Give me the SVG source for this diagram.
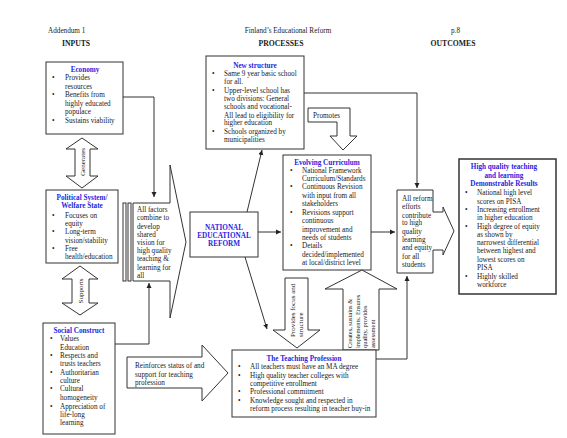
<svg xmlns="http://www.w3.org/2000/svg" width="567" height="438" viewBox="0 0 567 438">
<defs>
<style>
text{font-family:"Liberation Serif","Times New Roman",serif;fill:#1a1a1a;font-size:7.2px}
.hd{font-size:7.2px}
.hb{font-size:7.7px;font-weight:bold}
.t{font-weight:bold;fill:#1f1fe0;text-anchor:middle}
.box{fill:#fff;stroke:#333;stroke-width:1}
.thick{stroke-width:1.5}
.ln{fill:none;stroke:#333;stroke-width:1}
.sm{font-size:6.4px}
.md{font-size:7px}
</style>
<marker id="ah" markerWidth="6" markerHeight="6" refX="5" refY="3" orient="auto" markerUnits="userSpaceOnUse">
<path d="M0,0.5 L5,3 L0,5.5 Z" fill="#222"/>
</marker>
</defs>
<rect width="567" height="438" fill="#fff"/>

<g id="header">
<text class="hd" x="48" y="33">Addendum 1</text>
<text class="hd" x="288" y="33" text-anchor="middle">Finland’s Educational Reform</text>
<text class="hd" x="451" y="33">p.8</text>
<text class="hb" x="76" y="46" text-anchor="middle">INPUTS</text>
<text class="hb" x="281" y="46" text-anchor="middle">PROCESSES</text>
<text class="hb" x="453" y="46" text-anchor="middle">OUTCOMES</text>
</g>

<g id="economy">
<rect class="box" x="46" y="62" width="77" height="72"/>
<text class="t" x="85" y="71.5">Economy</text>
<text x="52" y="80">•</text><text x="65" y="80">Provides</text>
<text x="65" y="88.5">resources</text>
<text x="52" y="97">•</text><text x="65" y="97">Benefits from</text>
<text x="65" y="105.5">highly educated</text>
<text x="65" y="114">populace</text>
<text x="52" y="122.5">•</text><text x="65" y="122.5">Sustains viability</text>
</g>

<g id="generates">
<polygon class="box" points="82,138 66,149 75,149 75,176 66,176 82,188 98,176 90,176 90,149 98,149"/>
<text class="md" transform="translate(85,162) rotate(-90)" text-anchor="middle">Generates</text>
</g>

<g id="political">
<rect class="box" x="46" y="190" width="72" height="73"/>
<text class="t" x="82" y="199.5">Political System/</text>
<text class="t" x="82" y="208">Welfare State</text>
<text x="52" y="217.5">•</text><text x="65" y="217.5">Focuses on</text>
<text x="65" y="225.5">equity</text>
<text x="52" y="234">•</text><text x="65" y="234">Long-term</text>
<text x="65" y="242.5">vision/stability</text>
<text x="52" y="251">•</text><text x="65" y="251">Free</text>
<text x="65" y="259">health/education</text>
</g>

<g id="supports">
<polygon class="box" points="80,266 62,279 72,279 72,303 62,303 80,315 98,303 89,303 89,279 98,279"/>
<text class="md" transform="translate(83,291) rotate(-90)" text-anchor="middle">Supports</text>
</g>

<g id="social">
<rect class="box" x="43" y="323" width="72" height="111"/>
<text class="t" x="79" y="332.5">Social Construct</text>
<text x="50" y="341">•</text><text x="60" y="341">Values</text>
<text x="60" y="349.5">Education</text>
<text x="50" y="358">•</text><text x="60" y="358">Respects  and</text>
<text x="60" y="366">trusts teachers</text>
<text x="50" y="374.5">•</text><text x="60" y="374.5">Authoritarian</text>
<text x="60" y="383">culture</text>
<text x="50" y="391">•</text><text x="60" y="391">Cultural</text>
<text x="60" y="400">homogeneity</text>
<text x="50" y="408.5">•</text><text x="60" y="408.5">Appreciation of</text>
<text x="60" y="416.5">life-long</text>
<text x="60" y="425">learning</text>
</g>

<g id="all-factors">
<rect class="box" x="123" y="203" width="3" height="78"/>
<rect class="box" x="128" y="203" width="3" height="78"/>
<polygon class="box" points="133,203 170,203 170,165 186,242 170,318 170,281 133,281"/>
<text x="137" y="211.5">All factors</text>
<text x="137" y="220">combine to</text>
<text x="137" y="228.5">develop</text>
<text x="137" y="236.5">shared</text>
<text x="137" y="244.5">vision for</text>
<text x="137" y="253">high quality</text>
<text x="137" y="261">teaching &amp;</text>
<text x="137" y="269.5">learning for</text>
<text x="137" y="277.5">all</text>
</g>

<g id="national">
<rect class="box" x="190" y="212" width="68" height="45"/>
<text class="t" x="224" y="229.5">NATIONAL</text>
<text class="t" x="224" y="237.5">EDUCATIONAL</text>
<text class="t" x="224" y="245.5">REFORM</text>
</g>

<g id="new-structure">
<rect class="box" x="206" y="56" width="98" height="93"/>
<text class="t" x="255" y="67.5">New structure</text>
<text x="212" y="75.8">•</text><text x="224" y="75.8">Same 9 year basic school</text>
<text x="224" y="84">for all.</text>
<text x="212" y="92.5">•</text><text x="224" y="92.5">Upper-level school has</text>
<text x="224" y="100.8">two divisions: General</text>
<text x="224" y="109">schools and vocational-</text>
<text x="224" y="117.5">All lead to eligibility for</text>
<text x="224" y="125">higher education</text>
<text x="212" y="134">•</text><text x="224" y="134">Schools organized by</text>
<text x="224" y="141.8">municipalities</text>
</g>

<g id="promotes">
<polygon class="box" points="308,108 350,108 350,136 357,136 343,150 330,136 337,136 337,122 308,122"/>
<text x="313" y="117.5">Promotes</text>
</g>

<g id="evolving">
<rect class="box" x="283" y="155" width="88" height="115"/>
<text class="t" x="327" y="164.5">Evolving Curriculum</text>
<text x="290" y="173">•</text><text x="302" y="173">National Framework</text>
<text x="302" y="181">Curriculum/Standards</text>
<text x="290" y="189">•</text><text x="302" y="189">Continuous Revision</text>
<text x="302" y="197.5">with input from all</text>
<text x="302" y="206">stakeholders</text>
<text x="290" y="215">•</text><text x="302" y="215">Revisions support</text>
<text x="302" y="223">continuous</text>
<text x="302" y="231.5">improvement and</text>
<text x="302" y="240">needs of students</text>
<text x="290" y="248">•</text><text x="302" y="248">Details</text>
<text x="302" y="256.5">decided/implemented</text>
<text x="302" y="265">at local/district level</text>
</g>

<g id="provides">
<polygon class="box" points="285,278 308,278 308,330 320,330 297,348 273,330 285,330"/>
<text class="md" transform="translate(295,337) rotate(-90)">Provides focus and</text>
<text class="md" transform="translate(303,337) rotate(-90)">structure</text>
</g>

<g id="creates">
<polygon class="box" points="362,270 397,289 379,289 379,350 343,350 343,289 325,289"/>
<text class="sm" transform="translate(352,348) rotate(-90)">Creates, sustains &amp;</text>
<text class="sm" transform="translate(359.5,348) rotate(-90)">implements. Ensures</text>
<text class="sm" transform="translate(367,348) rotate(-90)">quality, provides</text>
<text class="sm" transform="translate(374.5,348) rotate(-90)">assessment</text>
</g>

<g id="teaching">
<rect class="box" x="232" y="350" width="144" height="67"/>
<text class="t" x="304" y="360.5">The Teaching Profession</text>
<text x="238" y="369">•</text><text x="250" y="369">All teachers must have an MA degree</text>
<text x="238" y="377.5">•</text><text x="250" y="377.5">High quality teacher colleges with</text>
<text x="250" y="385.5">competitive enrollment</text>
<text x="238" y="394">•</text><text x="250" y="394">Professional commitment</text>
<text x="238" y="402.5">•</text><text x="250" y="402.5">Knowledge sought and respected in</text>
<text x="250" y="411">reform process resulting in teacher buy-in</text>
</g>

<g id="reinforces">
<polygon class="box" points="127,357 202,357 202,345 228,373 202,401 202,388 127,388"/>
<text x="135" y="368">Reinforces status of and</text>
<text x="135" y="376.5">support for teaching</text>
<text x="135" y="384.5">profession</text>
</g>

<g id="all-reform">
<polygon class="box" points="397,190 433,190 433,212 443,212 443,207 454,231 443,255 443,250 433,250 433,273 397,273"/>
<text x="402" y="200.5">All reform</text>
<text x="402" y="209">efforts</text>
<text x="402" y="217.5">contribute</text>
<text x="402" y="225">to high</text>
<text x="402" y="233.5">quality</text>
<text x="402" y="241.5">learning</text>
<text x="402" y="250">and equity</text>
<text x="402" y="258.5">for all</text>
<text x="402" y="266.5">students</text>
</g>

<g id="outcomes">
<rect class="box thick" x="459" y="159" width="97" height="135"/>
<text class="t" x="504" y="169">High quality teaching</text>
<text class="t" x="504" y="177.5">and learning</text>
<text class="t" x="504" y="186">Demonstrable Results</text>
<text x="465" y="195">•</text><text x="477" y="195">National high level</text>
<text x="477" y="203.5">scores on PISA</text>
<text x="465" y="211.5">•</text><text x="477" y="211.5">Increasing enrollment</text>
<text x="477" y="220">in higher education</text>
<text x="465" y="228.5">•</text><text x="477" y="228.5">High degree of equity</text>
<text x="477" y="236.5">as shown by</text>
<text x="477" y="245">narrowest differential</text>
<text x="477" y="253">between highest and</text>
<text x="477" y="261.5">lowest scores on</text>
<text x="477" y="269.5">PISA</text>
<text x="465" y="278.5">•</text><text x="477" y="278.5">Highly skilled</text>
<text x="477" y="286.5">workforce</text>
</g>

<g id="connectors">
<path class="ln" d="M123,97 H154 V197" marker-end="url(#ah)"/>
<path class="ln" d="M115,344 H149 V283" marker-end="url(#ah)"/>
<path class="ln" d="M247,212 L262,150" marker-end="url(#ah)"/>
<path class="ln" d="M258,232 H281" marker-end="url(#ah)"/>
<path class="ln" d="M245,257 L267,329" marker-end="url(#ah)"/>
<path class="ln" d="M304,93 H417 V188" marker-end="url(#ah)"/>
<path class="ln" d="M371,232 H395" marker-end="url(#ah)"/>
<path class="ln" d="M376,359 H407 V276" marker-end="url(#ah)"/>
</g>
</svg>
